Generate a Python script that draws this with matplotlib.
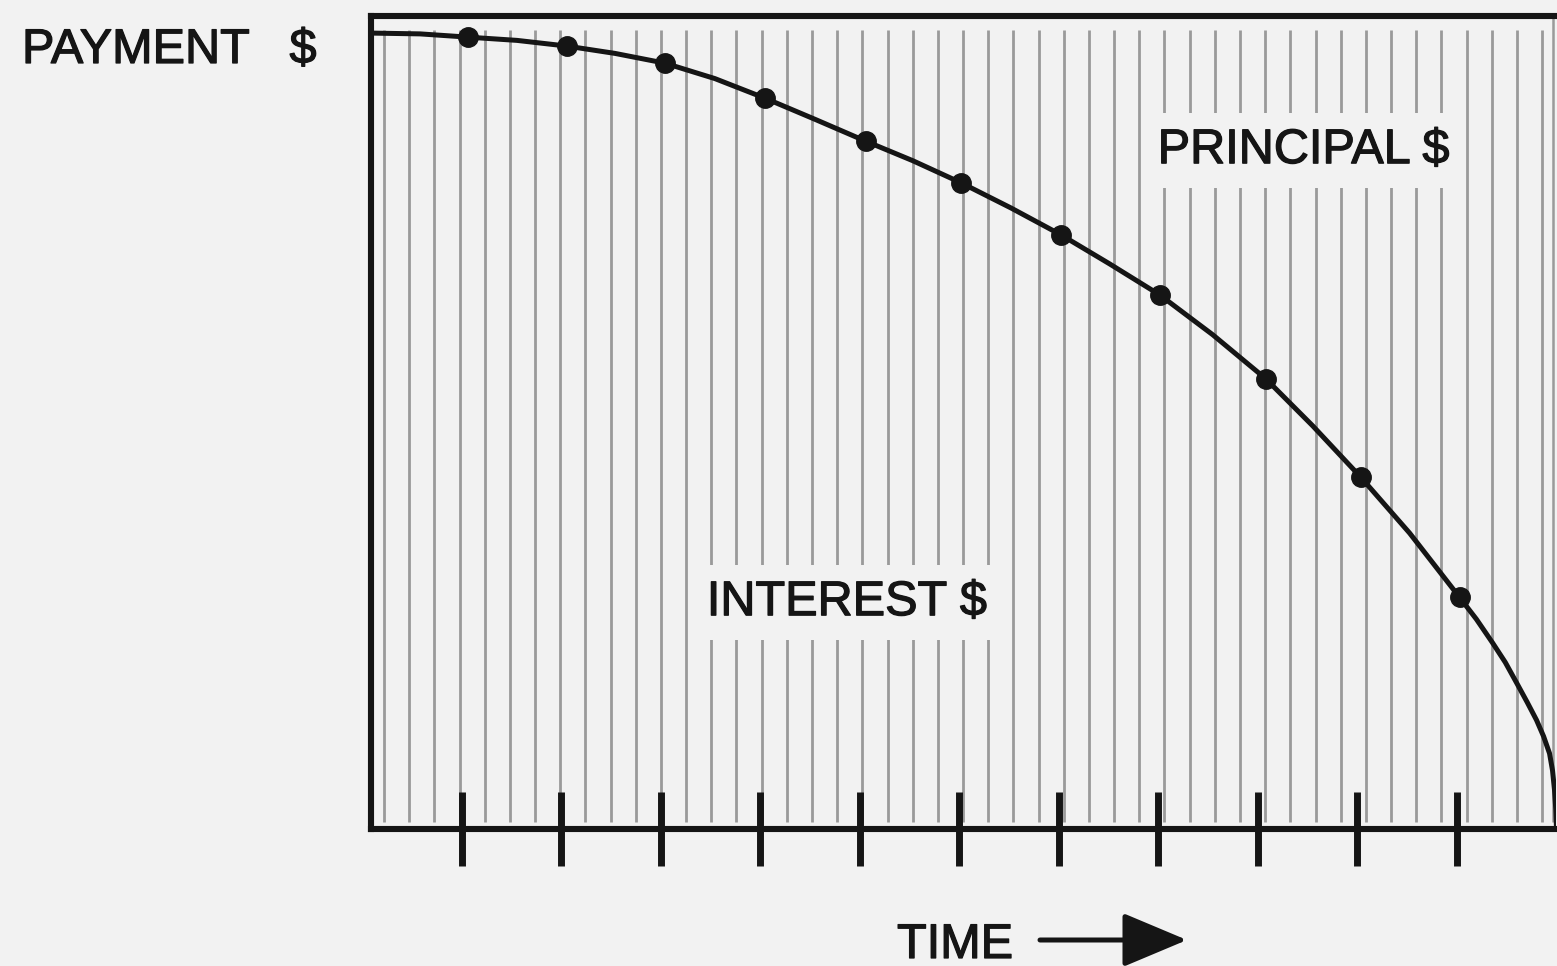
import numpy as np
import matplotlib
matplotlib.use("Agg")
import matplotlib.pyplot as plt
import matplotlib.patheffects as pe

# ---- data ----
periods = [1, 2, 3, 4, 5, 6, 7, 8, 9, 10, 11]
dot_x = [1.06, 2.055, 3.04, 4.045, 5.06, 6.015, 7.02, 8.015, 9.08, 10.035, 11.03]
dot_y = [97.4, 96.3, 94.2, 89.9, 84.6, 79.5, 73.1, 65.7, 55.4, 43.3, 28.5]
curve_x = [0.08, 0.578, 1.06, 1.553, 2.055, 2.538, 3.04, 3.543, 4.045, 4.548,
           5.06, 5.533, 6.015, 6.518, 7.02, 7.513, 8.015, 8.548, 9.08, 9.553,
           10.035, 10.528, 11.03, 11.2, 11.362, 11.49, 11.603, 11.71, 11.804,
           11.875, 11.935, 11.965, 11.985, 11.998, 12.005]
curve_y = [97.9, 97.8, 97.4, 97.0, 96.3, 95.4, 94.2, 92.3, 89.9, 87.3,
           84.6, 82.2, 79.5, 76.4, 73.1, 69.5, 65.7, 60.8, 55.4, 49.6,
           43.3, 36.4, 28.5, 25.8, 22.9, 20.5, 18.0, 15.6, 13.4,
           11.4, 9.3, 7.2, 4.8, 2.4, 0.0]
y_label = "PAYMENT   $"
x_label = "TIME"
upper_label = "PRINCIPAL $"
lower_label = "INTEREST $"

BG = "#f2f2f2"
INK = "#151515"
W, H = 1557, 966

plt.rcParams['font.family'] = ['Liberation Sans', 'DejaVu Sans']
fig = plt.figure(figsize=(W / 100, H / 100), dpi=100, facecolor=BG)
ax = fig.add_axes([370.5 / W, 1 - 829 / H, (1556 - 370.5) / W, (829 - 16) / H])
ax.set_facecolor(BG)
ax.set_xlim(0.08, 12.0)
ax.set_ylim(0, 100)

# vertical hatch lines
hatch_x = np.linspace(0.216, 11.86, 47)
ax.vlines(hatch_x, 0.9, 98.3, colors="#9a9a9a", linewidth=2.0, zorder=1)
ax.vlines([11.97], 0.9, 100, colors="#9a9a9a", linewidth=1.8, zorder=1)

fs = 35
stroke = [pe.withStroke(linewidth=0.9, foreground=INK)]
bb = dict(facecolor=BG, edgecolor="none", pad=11)
ax.text(7.995, 81.9, upper_label, ha="left", va="baseline", fontsize=fs,
        color=INK, bbox=bb, zorder=2, path_effects=stroke)
ax.text(3.462, 26.3, lower_label, ha="left", va="baseline", fontsize=fs,
        color=INK, bbox=bb, zorder=2, path_effects=stroke)

ax.plot(curve_x, curve_y, color=INK, linewidth=3.6, solid_capstyle="round",
        solid_joinstyle="round", zorder=3)
ax.plot(dot_x, dot_y, "o", color=INK, markersize=14, zorder=4)

ax.set_xticks(periods)
ax.set_xticklabels([])
ax.set_yticks([])
ax.tick_params(axis="x", direction="inout", length=53, width=5, color=INK,
               bottom=True, top=False)
for s in ["left", "top", "bottom"]:
    ax.spines[s].set_linewidth(4.4)
    ax.spines[s].set_color(INK)
    ax.spines[s].set_zorder(5)
ax.spines["right"].set_visible(False)

fig.text(22 / W, 1 - 63 / H, y_label, ha="left", va="baseline", fontsize=fs,
         color=INK, path_effects=stroke)
fig.text(897 / W, 1 - 958 / H, x_label, ha="left", va="baseline", fontsize=fs,
         color=INK, path_effects=stroke)
ax.annotate("", xy=(1187 / W, 1 - 940 / H), xytext=(1040 / W, 1 - 940 / H),
            xycoords="figure fraction", textcoords="figure fraction",
            arrowprops=dict(arrowstyle="-|>,head_length=1.0,head_width=0.42",
                            mutation_scale=40, lw=3.6, color=INK,
                            shrinkA=0, shrinkB=0))

fig.savefig("out.png", dpi=100, facecolor=BG)
